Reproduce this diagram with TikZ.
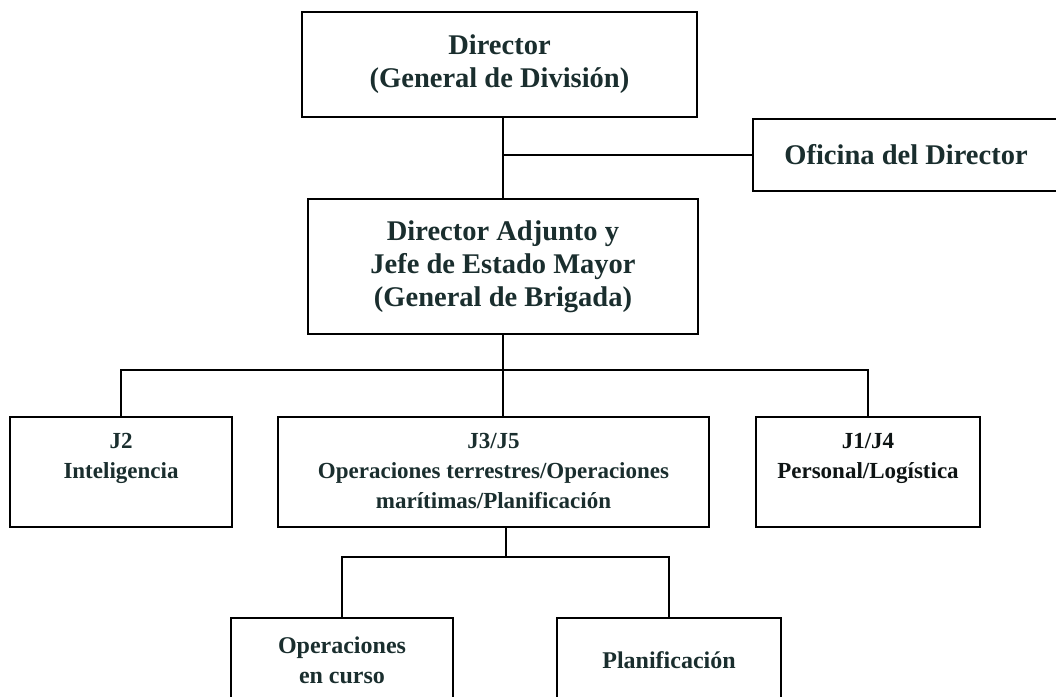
\documentclass[tikz,border=0pt]{standalone}
\usepackage{fontspec}
\setmainfont{Liberation Serif}
\definecolor{tcol}{RGB}{26,46,46}
\definecolor{tblk}{RGB}{14,20,20}
\begin{document}
\begin{tikzpicture}[x=1pt,y=-1pt,
  box/.style={draw=black, line width=1.8pt, fill=white, rectangle, inner sep=0pt},
  bigtxt/.style={text=tcol, font=\fontsize{28.5}{33}\selectfont\bfseries, align=center, inner sep=0pt},
  midtxt/.style={text=tcol, font=\fontsize{23}{30}\selectfont\bfseries, align=center, inner sep=0pt},
  subtxt/.style={text=tcol, font=\fontsize{24}{30}\selectfont\bfseries, align=center, inner sep=0pt},
  conn/.style={draw=black, line width=1.8pt}]
\useasboundingbox (0,0) rectangle (1056,696);
\clip (0,0) rectangle (1056,696);
% boxes
\node[box, minimum width=395pt, minimum height=105pt] (dir) at (499.5,64.5) {};
\node[box, minimum width=306pt, minimum height=72pt] (ofi) at (906,155) {};
\node[box, minimum width=390pt, minimum height=135pt] (da) at (503,266.5) {};
\node[box, minimum width=222pt, minimum height=110pt] (j2) at (121,472) {};
\node[box, minimum width=431pt, minimum height=110pt] (j3) at (493.5,472) {};
\node[box, minimum width=224pt, minimum height=110pt] (j1) at (868,472) {};
\node[box, minimum width=222pt, minimum height=84pt] (op) at (342,660) {};
\node[box, minimum width=224pt, minimum height=84pt] (pl) at (669,660) {};
% texts
\node[bigtxt] (tdir) at (dir.center) {Director\\(General de División)};
\node[bigtxt] (tofi) at (ofi.center) {Oficina del Director};
\node[bigtxt] (tda) at (da.center) {Director Adjunto y\\Jefe de Estado Mayor\\(General de Brigada)};
\node[midtxt, anchor=north] (tj2) at ([yshift=-17pt]j2.north) {J2\\Inteligencia};
\node[midtxt, anchor=north] (tj3) at ([yshift=-17pt]j3.north) {J3/J5\\Operaciones terrestres/Operaciones\\marítimas/Planificación};
\node[midtxt, anchor=north, text=tblk] (tj1) at ([yshift=-17pt]j1.north) {J1/J4\\Personal/Logística};
\node[subtxt] (top) at (op.center) {Operaciones\\en curso};
\node[subtxt] (tpl) at (pl.center) {Planificación};
% connectors
\coordinate (b1) at (0,370);
\coordinate (b2) at (0,557);
\coordinate (j3x) at (506,0);
\draw[conn] (da.north) -- (da.north |- dir.south);
\draw[conn] (ofi.west) -- (ofi.west -| da.north);
\draw[conn] (da.south) -- (da.south |- j3.north);
\draw[conn] (j2.north) -- (j2.north |- b1) -- (j1.north |- b1) -- (j1.north);
\draw[conn] (j3x |- j3.south) -- (j3x |- b2);
\draw[conn] (op.north) -- (op.north |- b2) -- (pl.north |- b2) -- (pl.north);
\end{tikzpicture}
\end{document}
